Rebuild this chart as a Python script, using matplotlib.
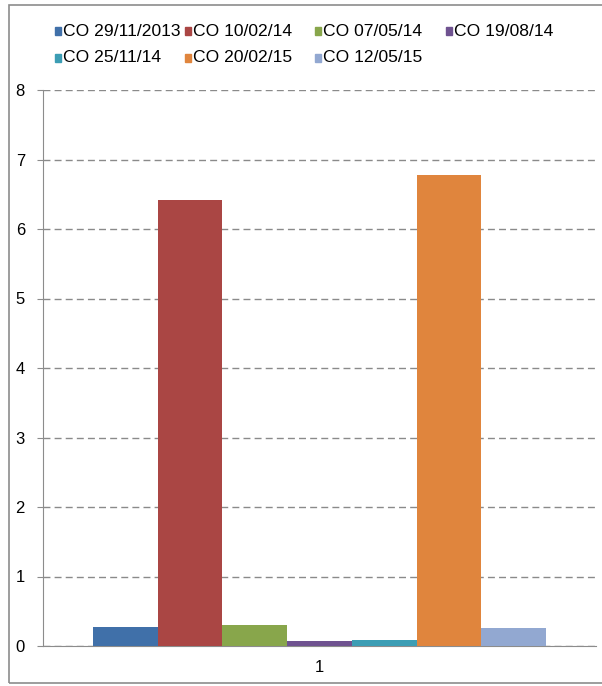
import matplotlib.pyplot as plt
from matplotlib.patches import Rectangle

# series names and values (one category: "1")
series = ["CO 29/11/2013", "CO 10/02/14", "CO 07/05/14", "CO 19/08/14",
          "CO 25/11/14", "CO 20/02/15", "CO 12/05/15"]
values = [0.27, 6.42, 0.30, 0.07, 0.09, 6.78, 0.26]
colors = ["#4070A9", "#AA4644", "#88A64B", "#6F5290", "#3C9DB4", "#E0853D", "#92A8D1"]
category = "1"

plt.rcParams['font.family'] = ['Liberation Sans', 'DejaVu Sans']

W, H = 602, 686
fig = plt.figure(figsize=(W / 100, H / 100), dpi=100)

# grey frame round the whole chart
fig.patches.append(Rectangle((9 / W, 3 / H), 1.2, (H - 8) / H, transform=fig.transFigure,
                             fill=False, edgecolor="#8c8c8c", linewidth=1.2))

ax = fig.add_axes([43 / W, (H - 646) / H, (596 - 43) / W, (646 - 90) / H])

n = len(values)
bw = 0.82 / n
for i in range(n):
    x = -0.41 + bw * (i + 0.5)
    ax.bar(x, values[i], width=bw, color=colors[i], zorder=3)

ax.set_xlim(-0.5, 0.5)
ax.set_ylim(0, 8)
ax.set_yticks(range(0, 9))
ax.set_xticks([0])
ax.set_xticklabels([category])
ax.yaxis.grid(True, linestyle=(0, (5, 3)), color="#8a8a8a", linewidth=1, zorder=0)
for s in ["top", "right"]:
    ax.spines[s].set_visible(False)
ax.spines["left"].set_color("#8c8c8c")
ax.spines["bottom"].set_color("#8c8c8c")
ax.tick_params(axis="y", length=4, color="#8c8c8c", labelsize=12, pad=9)
ax.tick_params(axis="x", length=0, labelsize=12, pad=10)

# legend laid out like the Excel one: 4 columns, 2 rows
col_x = [58, 188, 318, 449]
row_y = [31, 58]
for i, name in enumerate(series):
    cx = col_x[i % 4]
    cy = row_y[i // 4]
    fig.patches.append(Rectangle(((cx - 3) / W, (H - cy - 3.5) / H), 6 / W, 7 / H,
                                 transform=fig.transFigure, color=colors[i]))
    fig.text((cx + 5) / W, (H - cy) / H, name, fontsize=12.6, va="center", ha="left")

fig.savefig("out.png", dpi=100)
